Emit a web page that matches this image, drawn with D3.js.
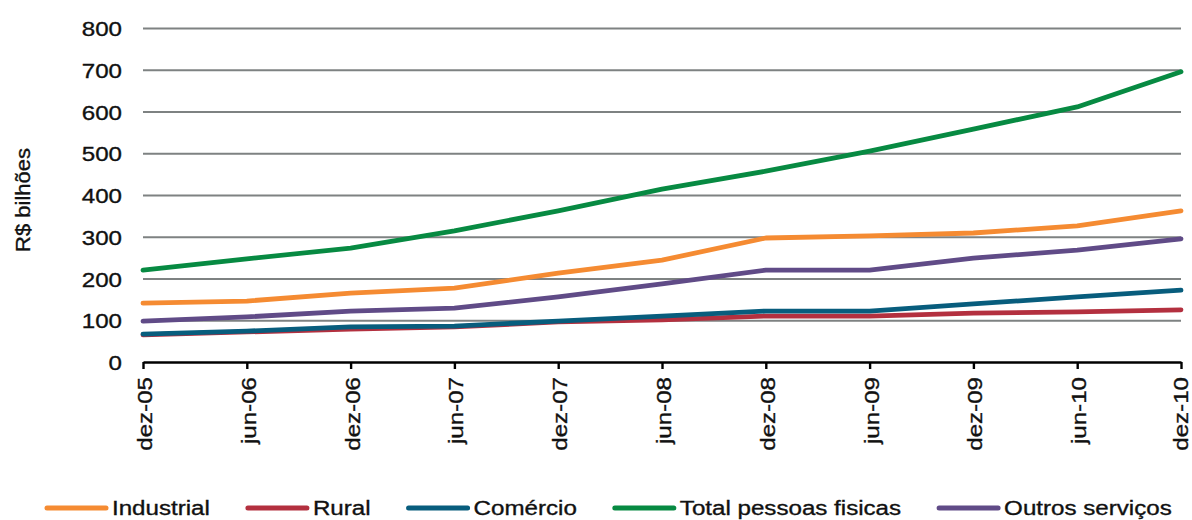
<!DOCTYPE html>
<html>
<head>
<meta charset="utf-8">
<script src="https://cdn.jsdelivr.net/npm/d3@7"></script>
<style>
  html, body { margin: 0; padding: 0; background: #fff; }
  svg { display: block; font-family: "Liberation Sans", Arial, sans-serif; }
  svg text { stroke: #111; stroke-width: 0.35px; }
</style>
</head>
<body>
<svg id="chart" width="1192" height="520"></svg>
<script>
const categories = ["dez-05","jun-06","dez-06","jun-07","dez-07","jun-08","dez-08","jun-09","dez-09","jun-10","dez-10"];
const industrial = [141,146,165,177,213,244,297,302,309,326,362];
const rural      = [65,72,79,84,96,101,110,110,117,120,125];
const comercio   = [67,74,84,86,98,110,122,122,139,156,172];
const totalPF    = [220,247,273,314,362,414,457,505,558,611,695];
const outros     = [98,108,122,129,156,187,220,220,249,268,295];
const yTicks = [0,100,200,300,400,500,600,700,800];
const seriesNames = ["Industrial","Rural","Comércio","Total pessoas fisicas","Outros serviços"];
const seriesColors = ["#f58b32","#b3303f","#085d7d","#078a42","#604b87"];
const seriesValues = [industrial, rural, comercio, totalPF, outros];

const svg = d3.select("#chart");
const mLeft = 143, mRight = 1181, mTop = 28, mBottom = 362;
const SX = 1.15;

const x = d3.scalePoint().domain(categories).range([mLeft, mRight]);
const y = d3.scaleLinear().domain([0, 800]).range([mBottom, mTop]);

// gridlines
const grid = svg.append("g").attr("transform", `translate(${mLeft},0)`)
  .call(d3.axisLeft(y).tickValues(yTicks.filter(v => v > 0)).tickSize(-(mRight - mLeft)).tickFormat(""));
grid.select(".domain").remove();
grid.selectAll("line").attr("stroke", "#7e8282").attr("stroke-width", 2.2);

// y labels
const yAx = svg.append("g").attr("transform", `translate(${mLeft},0)`)
  .call(d3.axisLeft(y).tickValues(yTicks).tickSize(0));
yAx.select(".domain").remove();
yAx.selectAll("line").remove();
yAx.selectAll("text")
  .attr("x", 0).attr("dy", "0.36em")
  .attr("transform", `translate(-21,0) scale(${SX},1)`)
  .attr("font-size", 21).attr("fill", "#111")
  .attr("font-family", "'Liberation Sans', Arial, sans-serif");

// y title
svg.append("text")
  .attr("transform", `translate(23,200) rotate(-90) scale(1.1,1)`)
  .attr("text-anchor", "middle").attr("dy", "0.35em")
  .attr("font-size", 20).attr("fill", "#111")
  .text("R$ bilhões");

// lines
const line = d3.line().x((d, i) => x(categories[i])).y(d => y(d));
seriesValues.forEach((vals, k) => {
  svg.append("path").datum(vals)
    .attr("d", line)
    .attr("fill", "none")
    .attr("stroke", seriesColors[k])
    .attr("stroke-width", 4.8)
    .attr("stroke-linejoin", "round")
    .attr("stroke-linecap", "round");
});

// x axis
const xAx = svg.append("g").attr("transform", `translate(0,${mBottom})`)
  .call(d3.axisBottom(x).tickSize(7).tickSizeOuter(0));
xAx.select(".domain").attr("stroke", "#000").attr("stroke-width", 2.4);
xAx.selectAll("line").attr("stroke", "#000").attr("stroke-width", 2.4);
const nCat = categories.length;
xAx.selectAll("text")
  .attr("x", 0).attr("y", 0).attr("dy", "0.36em")
  .attr("transform", (d, i) => `translate(${i === nCat - 1 ? -1.5 : 1},15) rotate(-90) scale(${SX},1)`)
  .attr("text-anchor", "end")
  .attr("font-size", 21).attr("fill", "#111")
  .attr("font-family", "'Liberation Sans', Arial, sans-serif");

// legend
const legend = svg.append("g");
let lx = 45;
const ly = 508;
seriesNames.forEach((name, k) => {
  legend.append("line")
    .attr("x1", lx + 2).attr("x2", lx + 61).attr("y1", ly).attr("y2", ly)
    .attr("stroke", seriesColors[k]).attr("stroke-width", 5).attr("stroke-linecap", "round");
  const t = legend.append("text")
    .attr("transform", `translate(${lx + 67},${ly + 7}) scale(${SX},1)`)
    .attr("font-size", 21).attr("fill", "#111")
    .text(name);
  const w = t.node().getComputedTextLength() * SX;
  lx = lx + 67 + w + 36;
});
</script>
</body>
</html>
